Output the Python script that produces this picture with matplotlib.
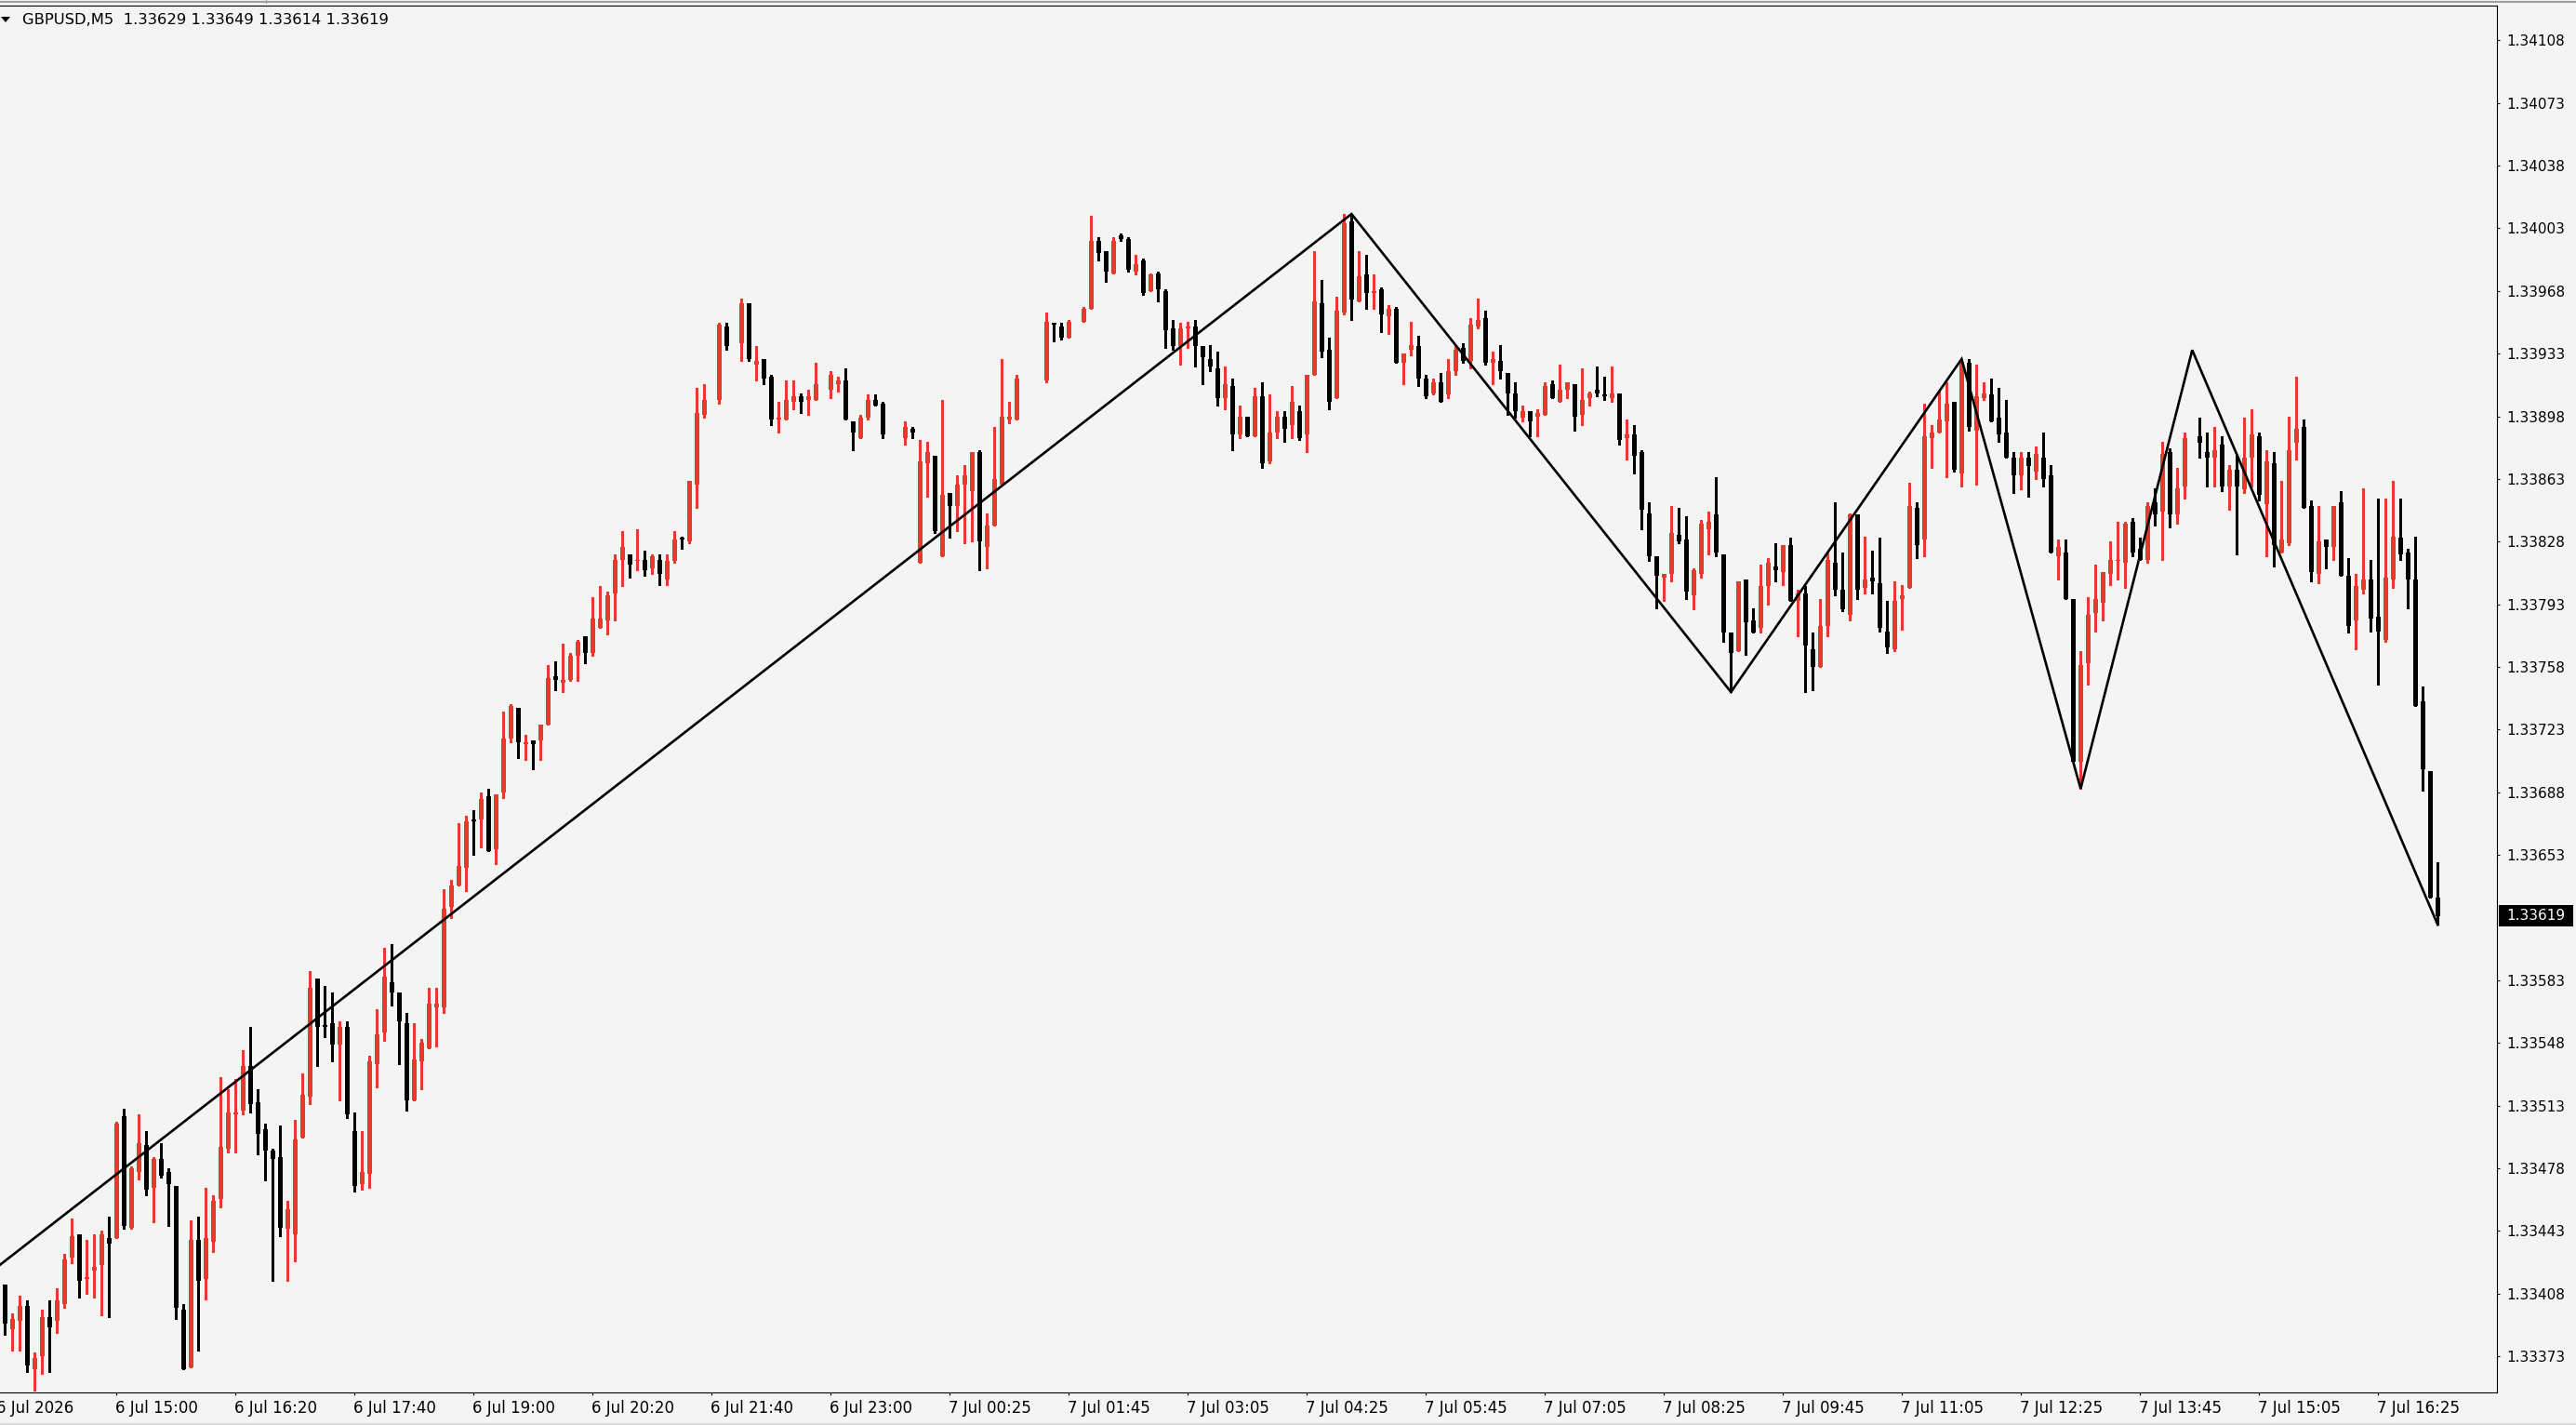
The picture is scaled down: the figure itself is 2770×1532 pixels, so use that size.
import matplotlib
matplotlib.use("Agg")
import matplotlib.pyplot as plt
from matplotlib.patches import Rectangle, Polygon
from matplotlib.lines import Line2D
from matplotlib.transforms import ScaledTranslation
import numpy as np

plt.rcParams['font.family'] = ['DejaVu Sans']

# ---------------- data ----------------
header_text = "GBPUSD,M5  1.33629 1.33649 1.33614 1.33619"
last_price = 1.33619

opens = [
    1.33413, 1.33388, 1.33393, 1.33401, 1.33366, 1.33373, 1.33395, 1.33393, 1.33402, 1.33428,
    1.33441, 1.33416, 1.33421, 1.33424, 1.33439, 1.33439, 1.33507, 1.33445, 1.33476, 1.33491,
    1.33467, 1.33483, 1.33476, 1.33468, 1.33399, 1.33367, 1.33438, 1.33416, 1.33437, 1.33461,
    1.33489, 1.33508, 1.33510, 1.33535, 1.33515, 1.33500, 1.33488, 1.33484, 1.33444, 1.33441,
    1.33495, 1.33518, 1.33584, 1.33558, 1.33559, 1.33547, 1.33557, 1.33499, 1.33469, 1.33475,
    1.33536, 1.33554, 1.33582, 1.33576, 1.33559, 1.33516, 1.33538, 1.33545, 1.33568, 1.33568,
    1.33624, 1.33636, 1.33646, 1.33673, 1.33673, 1.33686, 1.33656, 1.33688, 1.33718, 1.33735,
    1.33715, 1.33717, 1.33717, 1.33726, 1.33753, 1.33749, 1.33751, 1.33764, 1.33775, 1.33766,
    1.33780, 1.33784, 1.33799, 1.33818, 1.33821, 1.33817, 1.33818, 1.33813, 1.33818, 1.33807,
    1.33817, 1.33830, 1.33828, 1.33860, 1.33899, None, 1.33907, 1.33948, None, 1.33939,
    1.33961, 1.33927, 1.33930, 1.33920, 1.33896, 1.33896, 1.33906, 1.33909, 1.33907, 1.33907,
    None, 1.33913, 1.33916, 1.33918, 1.33895, 1.33886, 1.33897, 1.33907, 1.33905, None,
    None, 1.33886, 1.33891, 1.33816, 1.33872, 1.33876, 1.33820, 1.33855, 1.33848, 1.33860,
    1.33856, 1.33878, 1.33825, 1.33837, 1.33860, 1.33896, 1.33896, None, None, None,
    1.33918, 1.33950, 1.33948, 1.33942, None, 1.33951, 1.33958, 1.33996, 1.33990, 1.33978,
    1.33999, 1.33997, 1.33979, 1.33985, 1.33968, 1.33978, 1.33968, 1.33947, 1.33937, 1.33947,
    1.33948, 1.33937, 1.33930, 1.33925, 1.33908, 1.33915, 1.33888, 1.33898, 1.33887, 1.33909,
    1.33873, 1.33889, 1.33898, 1.33893, 1.33901, 1.33888, 1.33921, 1.33961, 1.33935, 1.33908,
    1.33956, 1.34007, 1.33962, 1.33977, 1.33967, 1.33969, 1.33954, 1.33958, 1.33928, 1.33935,
    1.33937, 1.33919, 1.33911, 1.33917, 1.33910, 1.33923, 1.33936, 1.33929, 1.33948, 1.33953,
    1.33928, 1.33929, 1.33922, 1.33911, 1.33897, 1.33901, 1.33898, 1.33899, 1.33916, 1.33906,
    1.33913, 1.33916, 1.33899, 1.33908, 1.33913, 1.33910, 1.33908, 1.33911, 1.33886, 1.33888,
    1.33878, 1.33844, 1.33820, 1.33808, 1.33810, 1.33832, 1.33829, 1.33798, 1.33810, 1.33835,
    1.33843, 1.33821, 1.33777, 1.33767, 1.33807, 1.33784, 1.33780, 1.33803, 1.33814, 1.33811,
    1.33826, 1.33795, 1.33799, 1.33768, 1.33758, 1.33781, 1.33816, 1.33801, 1.33787, 1.33843,
    1.33802, 1.33808, 1.33805, 1.33778, 1.33768, 1.33796, 1.33802, 1.33847, 1.33829, 1.33886,
    1.33889, 1.33895, 1.33906, 1.33866, 1.33928, 1.33890, 1.33908, 1.33910, 1.33897, 1.33889,
    1.33875, 1.33865, 1.33875, 1.33867, 1.33875, 1.33865, 1.33820, 1.33822, 1.33796, 1.33705,
    1.33760, 1.33788, 1.33794, 1.33810, 1.33817, 1.33816, 1.33839, 1.33824, 1.33818, 1.33850,
    1.33845, 1.33878, 1.33843, 1.33859, None, 1.33887, 1.33878, 1.33875, 1.33882, 1.33859,
    1.33868, 1.33857, 1.33875, 1.33887, 1.33849, 1.33872, 1.33822, 1.33827, 1.33883, 1.33892,
    1.33848, 1.33810, 1.33829, 1.33825, 1.33850, 1.33809, 1.33784, 1.33801, 1.33807, 1.33786,
    1.33773, 1.33807, 1.33830, 1.33822, 1.33807, 1.33739, 1.33700, 1.33629,
]

highs = [
    1.33413, 1.33397, 1.33407, 1.33404, 1.33375, 1.33399, 1.33404, 1.33411, 1.33430, 1.33450,
    1.33441, 1.33438, 1.33441, 1.33443, 1.33451, 1.33504, 1.33511, 1.33479, 1.33508, 1.33499,
    1.33484, 1.33492, 1.33478, 1.33468, 1.33402, 1.33449, 1.33451, 1.33467, 1.33463, 1.33529,
    1.33522, 1.33528, 1.33544, 1.33557, 1.33522, 1.33503, 1.33489, 1.33502, 1.33460, 1.33505,
    1.33531, 1.33588, 1.33584, 1.33580, 1.33576, 1.33560, 1.33560, 1.33509, 1.33499, 1.33541,
    1.33567, 1.33601, 1.33603, 1.33576, 1.33565, 1.33559, 1.33550, 1.33579, 1.33579, 1.33634,
    1.33639, 1.33671, 1.33675, 1.33678, 1.33688, 1.33690, 1.33687, 1.33733, 1.33737, 1.33735,
    1.33720, 1.33717, 1.33726, 1.33759, 1.33761, 1.33771, 1.33766, 1.33773, 1.33775, 1.33797,
    1.33803, 1.33800, 1.33821, 1.33834, 1.33821, 1.33835, 1.33823, 1.33821, 1.33821, 1.33821,
    1.33834, 1.33831, 1.33862, 1.33914, 1.33916, None, 1.33950, 1.33950, None, 1.33964,
    1.33961, 1.33937, 1.33930, 1.33921, 1.33906, 1.33918, 1.33918, 1.33911, 1.33913, 1.33928,
    None, 1.33923, 1.33920, 1.33925, 1.33895, 1.33899, 1.33910, 1.33910, 1.33906, None,
    None, 1.33895, 1.33892, 1.33885, 1.33884, 1.33876, 1.33907, 1.33855, 1.33865, 1.33871,
    1.33878, 1.33879, 1.33844, 1.33892, 1.33930, 1.33906, 1.33921, None, None, None,
    1.33956, 1.33950, 1.33950, 1.33952, None, 1.33959, 1.34010, 1.33998, 1.33990, 1.33998,
    1.34000, 1.33998, 1.33988, 1.33986, 1.33978, 1.33979, 1.33969, 1.33952, 1.33950, 1.33951,
    1.33952, 1.33937, 1.33938, 1.33934, 1.33926, 1.33919, 1.33904, 1.33898, 1.33914, 1.33917,
    1.33910, 1.33901, 1.33901, 1.33915, 1.33904, 1.33921, 1.33990, 1.33974, 1.33942, 1.33965,
    1.34011, 1.34011, 1.33990, 1.33988, 1.33977, 1.33970, 1.33960, 1.33959, 1.33933, 1.33951,
    1.33943, 1.33921, 1.33919, 1.33922, 1.33930, 1.33937, 1.33939, 1.33953, 1.33964, 1.33957,
    1.33934, 1.33938, 1.33922, 1.33917, 1.33904, 1.33901, 1.33902, 1.33917, 1.33918, 1.33927,
    1.33917, 1.33916, 1.33925, 1.33912, 1.33926, 1.33920, 1.33926, 1.33911, 1.33896, 1.33893,
    1.33879, 1.33850, 1.33820, 1.33810, 1.33848, 1.33847, 1.33842, 1.33813, 1.33840, 1.33845,
    1.33864, 1.33821, 1.33777, 1.33806, 1.33807, 1.33791, 1.33815, 1.33819, 1.33827, 1.33826,
    1.33830, 1.33801, 1.33803, 1.33777, 1.33796, 1.33822, 1.33850, 1.33822, 1.33844, 1.33843,
    1.33831, 1.33823, 1.33830, 1.33795, 1.33806, 1.33804, 1.33861, 1.33850, 1.33905, 1.33893,
    1.33912, 1.33917, 1.33906, 1.33930, 1.33930, 1.33927, 1.33917, 1.33919, 1.33914, 1.33907,
    1.33878, 1.33878, 1.33878, 1.33881, 1.33889, 1.33871, 1.33829, 1.33829, 1.33796, 1.33767,
    1.33797, 1.33815, 1.33811, 1.33828, 1.33839, 1.33839, 1.33841, 1.33830, 1.33850, 1.33858,
    1.33884, 1.33880, 1.33869, 1.33889, None, 1.33897, 1.33889, 1.33892, 1.33887, 1.33871,
    1.33876, 1.33897, 1.33902, 1.33889, 1.33879, 1.33878, 1.33862, 1.33898, 1.33920, 1.33896,
    1.33851, 1.33848, 1.33829, 1.33848, 1.33856, 1.33819, 1.33810, 1.33858, 1.33818, 1.33852,
    1.33852, 1.33862, 1.33852, 1.33824, 1.33831, 1.33747, 1.33700, 1.33649,
]

lows = [
    1.33385, 1.33376, 1.33376, 1.33364, 1.33354, 1.33363, 1.33364, 1.33386, 1.33400, 1.33425,
    1.33406, 1.33408, 1.33406, 1.33396, 1.33395, 1.33439, 1.33444, 1.33444, 1.33472, 1.33463,
    1.33448, 1.33473, 1.33446, 1.33394, 1.33366, 1.33367, 1.33376, 1.33405, 1.33431, 1.33456,
    1.33487, 1.33487, 1.33508, 1.33509, 1.33486, 1.33471, 1.33415, 1.33440, 1.33415, 1.33426,
    1.33495, 1.33514, 1.33535, 1.33551, 1.33538, 1.33516, 1.33506, 1.33465, 1.33466, 1.33467,
    1.33523, 1.33549, 1.33569, 1.33536, 1.33510, 1.33516, 1.33522, 1.33545, 1.33546, 1.33565,
    1.33618, 1.33636, 1.33633, 1.33653, 1.33657, 1.33655, 1.33648, 1.33685, 1.33716, 1.33707,
    1.33706, 1.33701, 1.33706, 1.33726, 1.33745, 1.33744, 1.33750, 1.33750, 1.33760, 1.33764,
    1.33780, 1.33776, 1.33784, 1.33803, 1.33808, 1.33812, 1.33809, 1.33810, 1.33804, 1.33804,
    1.33816, 1.33824, 1.33827, 1.33847, 1.33897, None, 1.33905, 1.33935, None, 1.33929,
    1.33929, 1.33918, 1.33916, 1.33893, 1.33889, 1.33896, 1.33902, 1.33900, 1.33899, 1.33907,
    None, 1.33908, 1.33912, 1.33896, 1.33879, 1.33886, 1.33896, 1.33904, 1.33886, None,
    None, 1.33882, 1.33886, 1.33816, 1.33853, 1.33833, 1.33820, 1.33830, 1.33834, 1.33827,
    1.33828, 1.33812, 1.33813, 1.33837, 1.33860, 1.33894, 1.33896, None, None, None,
    1.33917, 1.33940, 1.33941, 1.33942, None, 1.33951, 1.33958, 1.33985, 1.33973, 1.33978,
    1.33996, 1.33979, 1.33977, 1.33966, 1.33968, 1.33962, 1.33936, 1.33935, 1.33927, 1.33936,
    1.33926, 1.33916, 1.33923, 1.33904, 1.33902, 1.33879, 1.33886, 1.33887, 1.33887, 1.33869,
    1.33872, 1.33886, 1.33884, 1.33886, 1.33885, 1.33878, 1.33921, 1.33931, 1.33902, 1.33908,
    1.33955, 1.33952, 1.33962, 1.33958, 1.33958, 1.33945, 1.33944, 1.33928, 1.33916, 1.33932,
    1.33915, 1.33908, 1.33910, 1.33906, 1.33908, 1.33921, 1.33928, 1.33925, 1.33947, 1.33927,
    1.33916, 1.33919, 1.33899, 1.33897, 1.33895, 1.33887, 1.33887, 1.33899, 1.33908, 1.33906,
    1.33908, 1.33890, 1.33893, 1.33904, 1.33909, 1.33907, 1.33906, 1.33882, 1.33874, 1.33866,
    1.33835, 1.33817, 1.33791, 1.33795, 1.33806, 1.33827, 1.33796, 1.33790, 1.33808, 1.33821,
    1.33820, 1.33772, 1.33744, 1.33767, 1.33765, 1.33777, 1.33777, 1.33793, 1.33806, 1.33804,
    1.33795, 1.33775, 1.33744, 1.33745, 1.33758, 1.33775, 1.33798, 1.33789, 1.33784, 1.33796,
    1.33799, 1.33799, 1.33778, 1.33766, 1.33767, 1.33779, 1.33802, 1.33819, 1.33820, 1.33869,
    1.33889, 1.33864, 1.33867, 1.33859, 1.33890, 1.33860, 1.33907, 1.33895, 1.33884, 1.33875,
    1.33855, 1.33857, 1.33853, 1.33863, 1.33859, 1.33822, 1.33807, 1.33796, 1.33705, 1.33690,
    1.33748, 1.33778, 1.33784, 1.33804, 1.33807, 1.33802, 1.33820, 1.33818, 1.33816, 1.33837,
    1.33818, 1.33836, 1.33838, 1.33852, None, 1.33875, 1.33859, 1.33859, 1.33856, 1.33846,
    1.33821, 1.33855, 1.33859, 1.33851, 1.33820, 1.33814, 1.33822, 1.33826, 1.33874, 1.33847,
    1.33806, 1.33805, 1.33813, 1.33818, 1.33809, 1.33777, 1.33768, 1.33799, 1.33778, 1.33748,
    1.33772, 1.33802, 1.33818, 1.33791, 1.33736, 1.33689, 1.33629, 1.33614,
]

closes = [
    1.33391, 1.33394, 1.33401, 1.33368, 1.33372, 1.33395, 1.33389, 1.33404, 1.33427, 1.33440,
    1.33415, 1.33417, 1.33423, 1.33441, 1.33436, 1.33503, 1.33446, 1.33478, 1.33492, 1.33466,
    1.33483, 1.33474, 1.33469, 1.33400, 1.33366, 1.33438, 1.33415, 1.33439, 1.33460, 1.33490,
    1.33509, 1.33509, 1.33535, 1.33514, 1.33497, 1.33488, 1.33483, 1.33445, 1.33455, 1.33494,
    1.33519, 1.33579, 1.33557, 1.33557, 1.33547, 1.33557, 1.33508, 1.33468, 1.33476, 1.33538,
    1.33553, 1.33585, 1.33576, 1.33560, 1.33516, 1.33539, 1.33548, 1.33570, 1.33570, 1.33623,
    1.33636, 1.33647, 1.33672, 1.33672, 1.33684, 1.33655, 1.33687, 1.33718, 1.33736, 1.33716,
    1.33716, 1.33715, 1.33726, 1.33752, 1.33751, 1.33751, 1.33764, 1.33772, 1.33766, 1.33785,
    1.33785, 1.33798, 1.33818, 1.33825, 1.33815, 1.33818, 1.33812, 1.33820, 1.33810, 1.33817,
    1.33829, 1.33829, 1.33862, 1.33900, 1.33907, None, 1.33949, 1.33937, None, 1.33961,
    1.33930, 1.33929, 1.33919, 1.33896, 1.33897, 1.33907, 1.33909, 1.33906, 1.33909, 1.33916,
    None, 1.33921, 1.33918, 1.33896, 1.33889, 1.33897, 1.33907, 1.33904, 1.33888, None,
    None, 1.33892, 1.33889, 1.33873, 1.33878, 1.33834, 1.33854, 1.33848, 1.33860, 1.33865,
    1.33878, 1.33828, 1.33837, 1.33863, 1.33898, 1.33898, 1.33919, None, None, None,
    1.33951, 1.33949, 1.33942, 1.33951, None, 1.33958, 1.33996, 1.33989, 1.33979, 1.33996,
    1.33997, 1.33980, 1.33983, 1.33967, 1.33977, 1.33969, 1.33946, 1.33937, 1.33947, 1.33948,
    1.33937, 1.33931, 1.33926, 1.33908, 1.33916, 1.33888, 1.33898, 1.33887, 1.33909, 1.33872,
    1.33889, 1.33898, 1.33891, 1.33906, 1.33886, 1.33921, 1.33962, 1.33934, 1.33906, 1.33957,
    1.34006, 1.33963, 1.33976, 1.33967, 1.33968, 1.33955, 1.33958, 1.33928, 1.33933, 1.33938,
    1.33919, 1.33909, 1.33917, 1.33906, 1.33923, 1.33935, 1.33929, 1.33949, 1.33952, 1.33928,
    1.33930, 1.33923, 1.33911, 1.33901, 1.33901, 1.33895, 1.33900, 1.33915, 1.33908, 1.33913,
    1.33917, 1.33898, 1.33907, 1.33911, 1.33911, 1.33909, 1.33911, 1.33885, 1.33888, 1.33876,
    1.33846, 1.33820, 1.33809, 1.33810, 1.33833, 1.33828, 1.33800, 1.33812, 1.33838, 1.33839,
    1.33822, 1.33777, 1.33766, 1.33806, 1.33783, 1.33777, 1.33803, 1.33816, 1.33812, 1.33826,
    1.33795, 1.33799, 1.33770, 1.33758, 1.33781, 1.33818, 1.33801, 1.33790, 1.33843, 1.33801,
    1.33807, 1.33806, 1.33780, 1.33769, 1.33795, 1.33798, 1.33848, 1.33826, 1.33887, 1.33889,
    1.33896, 1.33905, 1.33868, 1.33928, 1.33892, 1.33909, 1.33911, 1.33895, 1.33888, 1.33875,
    1.33865, 1.33875, 1.33870, 1.33877, 1.33863, 1.33822, 1.33825, 1.33796, 1.33705, 1.33759,
    1.33787, 1.33796, 1.33811, 1.33818, 1.33818, 1.33838, 1.33822, 1.33818, 1.33848, 1.33843,
    1.33877, 1.33843, 1.33858, 1.33886, None, 1.33883, 1.33875, 1.33879, 1.33859, 1.33868,
    1.33859, 1.33875, 1.33888, 1.33854, 1.33873, 1.33826, 1.33829, 1.33879, 1.33891, 1.33847,
    1.33811, 1.33828, 1.33825, 1.33848, 1.33809, 1.33781, 1.33803, 1.33807, 1.33785, 1.33778,
    1.33808, 1.33831, 1.33821, 1.33807, 1.33736, 1.33701, 1.33629, 1.33619,
]

# ZigZag pivots (bar index, price); the first pivot lies just left of the view
zigzag_idx = [-1, 181, 232, 263, 279, 294, 327]
zigzag_price = [1.33423, 1.34011, 1.33744, 1.33930, 1.33690, 1.33935, 1.33614]

xtick_idx = [-1, 15, 31, 47, 63, 79, 95, 111, 127, 143, 159, 175, 191, 207, 223,
             239, 255, 271, 287, 303, 319]
xtick_labels = ["6 Jul 2026", "6 Jul 15:00", "6 Jul 16:20", "6 Jul 17:40", "6 Jul 19:00",
                "6 Jul 20:20", "6 Jul 21:40", "6 Jul 23:00", "7 Jul 00:25", "7 Jul 01:45",
                "7 Jul 03:05", "7 Jul 04:25", "7 Jul 05:45", "7 Jul 07:05", "7 Jul 08:25",
                "7 Jul 09:45", "7 Jul 11:05", "7 Jul 12:25", "7 Jul 13:45", "7 Jul 15:05",
                "7 Jul 16:25"]

ytick_values = [1.34108, 1.34073, 1.34038, 1.34003, 1.33968, 1.33933, 1.33898, 1.33863,
                1.33828, 1.33793, 1.33758, 1.33723, 1.33688, 1.33653, 1.33583, 1.33548,
                1.33513, 1.33478, 1.33443, 1.33408, 1.33373]

# ---------------- style / layout ----------------
W, H, DPI = 2770, 1532, 100
BG = '#f4f4f4'
BULL = '#e63a2d'
BEAR = '#000000'
AX_L, AX_R, AX_T, AX_B = 0, 2685, 6, 1497   # plot frame in pixels

fig = plt.figure(figsize=(W / DPI, H / DPI), dpi=DPI, facecolor=BG)
ax = fig.add_axes([AX_L / W, 1 - AX_B / H, (AX_R - AX_L) / W, (AX_B - AX_T) / H])
ax.set_facecolor(BG)

def arr(v):
    return np.array([np.nan if e is None else e for e in v], dtype=float)

o, h, l, c = arr(opens), arr(highs), arr(lows), arr(closes)
x = np.arange(len(o))
valid = ~np.isnan(o)
up = valid & (c >= o)
dn = valid & (c < o)

ax.set_xlim(-0.666, 334.96)
ax.set_ylim(1.333528, 1.341274)

min_body = 1.0e-5
for mask, col in ((up, BULL), (dn, BEAR)):
    xs = x[mask]
    ax.vlines(xs, l[mask], h[mask], colors=col, linewidth=0.8, antialiased=False, zorder=2)
    diff = np.abs(c[mask] - o[mask])
    mid = (c[mask] + o[mask]) / 2
    hgt = np.maximum(diff, min_body)
    ax.bar(xs, hgt, bottom=mid - hgt / 2, width=0.62, color=col, linewidth=0,
           antialiased=False, zorder=3)

# ZigZag
ax.plot(zigzag_idx, zigzag_price, color='black', linewidth=1.9, zorder=4,
        solid_joinstyle='miter')

# spines
ax.spines['left'].set_visible(False)
for s in ('top', 'right', 'bottom'):
    ax.spines[s].set_color('black')
    ax.spines[s].set_linewidth(0.8)

# y axis on the right
ax.yaxis.tick_right()
ax.set_yticks(ytick_values)
ax.set_yticklabels([f"{v:.5f}" for v in ytick_values])
ax.tick_params(axis='y', direction='out', length=2.2, width=0.8, pad=5,
               labelsize=11, colors='black')

# x axis ticks and labels (labels left-aligned at tick)
ax.set_xticks([t for t in xtick_idx if t >= 0])
ax.set_xticklabels([])
ax.tick_params(axis='x', direction='out', length=2.2, width=0.8)
trans = ax.get_xaxis_transform() + ScaledTranslation(-1 / DPI, -17 / DPI, fig.dpi_scale_trans)
for xi, lab in zip(xtick_idx, xtick_labels):
    ax.text(xi, 0, lab, transform=trans, ha='left', va='center', fontsize=12,
            color='black', clip_on=False)

# current price label
yd = ax.transData.transform((0, last_price))[1]
box_h = 23
fig.patches.append(Rectangle((2687 / W, (yd - box_h / 2) / H), 80 / W, box_h / H,
                             transform=fig.transFigure, facecolor='black',
                             edgecolor='none', zorder=5))
fig.text(2695 / W, yd / H, f"{last_price:.5f}", color='white', fontsize=11,
         ha='left', va='center', zorder=6)

# header
fig.patches.append(Polygon([(1 / W, 1 - 18 / H), (11 / W, 1 - 18 / H), (6 / W, 1 - 24 / H)],
                           closed=True, transform=fig.transFigure, facecolor='black',
                           edgecolor='none', zorder=5))
fig.text(24 / W, 1 - 22 / H, header_text, fontsize=11.8, ha='left', va='center',
         color='black', zorder=6)

# window chrome lines
fig.add_artist(Line2D([0, 1], [1 - 2 / H, 1 - 2 / H], transform=fig.transFigure,
                      color='#a0a0a0', linewidth=1.5))
fig.add_artist(Line2D([286 / W, 286 / W], [1, 1 - 3 / H], transform=fig.transFigure,
                      color='#a0a0a0', linewidth=0.8))
fig.add_artist(Line2D([0, 1], [1 - 1531 / H, 1 - 1531 / H], transform=fig.transFigure,
                      color='#dcdcdc', linewidth=1.5))

fig.savefig("out.png", dpi=DPI, facecolor=BG)
